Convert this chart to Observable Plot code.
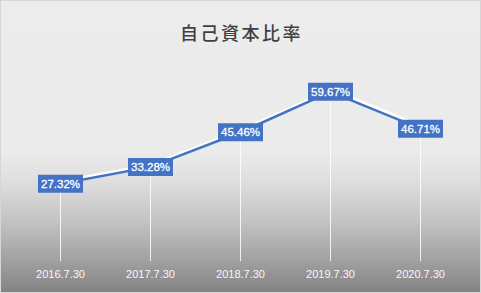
<!DOCTYPE html>
<html>
<head>
<meta charset="utf-8">
<script src="https://cdn.jsdelivr.net/npm/d3@7"></script>
<script src="https://cdn.jsdelivr.net/npm/@observablehq/plot@0.6"></script>
<style>
  html, body { margin: 0; padding: 0; background: #fff; }
  #wrap { position: relative; width: 481px; height: 293px; }
  #border { position: absolute; left: 0; top: 0; width: 479px; height: 291px; border: 1px solid #d6d6d6; pointer-events: none; }
</style>
</head>
<body>
<div id="wrap"><div id="border"></div></div>
<script>
const title = "自己資本比率";
const dates = ["2016.7.30", "2017.7.30", "2018.7.30", "2019.7.30", "2020.7.30"];
const ratios = [27.32, 33.28, 45.46, 59.67, 46.71];

const data = dates.map((d, i) => ({date: d, value: ratios[i]}));
const boxSymbol = { draw(ctx) { ctx.rect(-22.5, -9, 45, 18); } };

const chart = Plot.plot({
  width: 481,
  height: 293,
  marginLeft: 15,
  marginRight: 16,
  marginTop: 62,
  marginBottom: 32,
  style: {
    background: "linear-gradient(to bottom, #ececec 0%, #ebebeb 52%, #dedede 62%, #c2c2c2 76%, #a3a3a3 88%, #828282 100%)",
    fontFamily: "'Liberation Sans', Arial, sans-serif"
  },
  x: { type: "point", domain: dates, label: null },
  y: { domain: [0, 70], axis: null },
  marks: [
    Plot.ruleX(data, { x: "date", y1: 0, y2: "value", stroke: "#ffffff", strokeOpacity: 0.85, strokeWidth: 1 }),
    Plot.line(data, { x: "date", y: "value", stroke: "#ffffff", strokeWidth: 3.5, dy: -2, dx: 1 }),
    Plot.line(data, { x: "date", y: "value", stroke: "#4472c4", strokeWidth: 2.5 }),
    Plot.dot(data, { x: "date", y: "value", symbol: boxSymbol, r: 5, fill: "#4472c4", stroke: "none" }),
    Plot.text(data, { x: "date", y: "value", text: d => d.value.toFixed(2) + "%", fill: "#ffffff", fontSize: 11.5, dy: 0.5, stroke: "#ffffff", strokeWidth: 0.3 }),
    Plot.axisX({ tickSize: 0, tickPadding: 9, fontSize: 11, fill: "#f7f7f7", label: null }),
    Plot.text([title], { frameAnchor: "top", dy: -35, dx: 1, text: d => d, fontSize: 18, fontWeight: 500, fill: "#404040", fontFamily: "'Noto Sans CJK JP', sans-serif", render(index, scales, values, dims, ctx, next) { const g = next(index, scales, values, dims, ctx); g.querySelectorAll("text").forEach(t => t.setAttribute("letter-spacing", "2.5")); return g; } })
  ]
});
document.getElementById("wrap").prepend(chart);
</script>
</body>
</html>
